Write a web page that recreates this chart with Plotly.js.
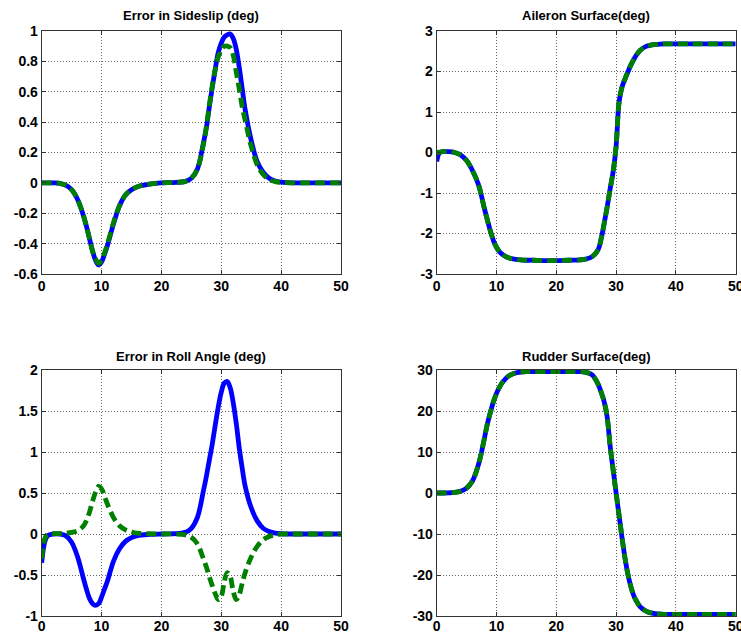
<!DOCTYPE html>
<html>
<head>
<meta charset="utf-8">
<script src="https://cdn.plot.ly/plotly-3.0.1.min.js"></script>
<style>html,body{margin:0;padding:0;background:#fff;}#chart{width:741px;height:634px;}</style>
</head>
<body>
<div id="chart"></div>
<script>
// time (s)
const time = [0,0.5,1,2,3,4,5,6,7,7.5,8,8.5,9,9.5,10,10.5,11,12,13,14,15,16,18,20,22,24,25,26,27,27.5,28,28.5,29,29.5,30,30.5,31,31.5,32,32.5,33,33.5,34,35,36,37,38,39,40,42,45,50];

const sideslipBlue = [0,0,0,0,-0.003,-0.015,-0.045,-0.11,-0.22,-0.29,-0.37,-0.45,-0.51,-0.54,-0.52,-0.47,-0.41,-0.27,-0.15,-0.08,-0.045,-0.025,-0.008,0,0.002,0.01,0.03,0.09,0.26,0.36,0.5,0.63,0.75,0.86,0.92,0.96,0.975,0.98,0.95,0.88,0.76,0.62,0.48,0.28,0.14,0.07,0.03,0.012,0.005,0,0,0];
const sideslipGreen = [0,0,0,0,-0.003,-0.015,-0.045,-0.11,-0.22,-0.29,-0.37,-0.45,-0.5,-0.53,-0.51,-0.46,-0.4,-0.26,-0.15,-0.08,-0.045,-0.025,-0.008,0,0.002,0.01,0.03,0.09,0.25,0.37,0.51,0.64,0.75,0.83,0.87,0.9,0.9,0.89,0.84,0.73,0.62,0.5,0.41,0.24,0.12,0.055,0.022,0.008,0.003,0,0,0];

const aileronBlue = [-0.22,0,0.02,0.02,0,-0.06,-0.2,-0.45,-0.8,-1.08,-1.4,-1.68,-1.95,-2.18,-2.34,-2.45,-2.52,-2.6,-2.63,-2.65,-2.66,-2.66,-2.67,-2.67,-2.66,-2.65,-2.63,-2.57,-2.4,-2.13,-1.76,-1.35,-0.9,-0.48,0.15,1.25,1.62,1.82,2.0,2.17,2.31,2.43,2.52,2.62,2.66,2.67,2.68,2.68,2.68,2.68,2.68,2.68];
const aileronGreen = [0,0.01,0.02,0.02,0,-0.06,-0.2,-0.45,-0.8,-1.08,-1.4,-1.68,-1.95,-2.18,-2.34,-2.45,-2.52,-2.6,-2.63,-2.65,-2.66,-2.66,-2.67,-2.67,-2.66,-2.65,-2.63,-2.57,-2.4,-2.13,-1.76,-1.35,-0.9,-0.48,0.15,1.25,1.62,1.82,2.0,2.17,2.31,2.43,2.52,2.62,2.66,2.67,2.68,2.68,2.68,2.68,2.68,2.68];

const rollBlue = [-0.35,-0.1,-0.02,0,0,-0.02,-0.1,-0.28,-0.55,-0.68,-0.79,-0.85,-0.87,-0.85,-0.77,-0.67,-0.57,-0.33,-0.18,-0.09,-0.045,-0.02,-0.005,0,0.003,0.02,0.07,0.2,0.52,0.7,0.9,1.1,1.33,1.55,1.73,1.84,1.86,1.78,1.6,1.35,1.05,0.8,0.58,0.32,0.16,0.07,0.03,0.01,0.003,0,0,0];
const rollGreen = [-0.3,-0.06,0,0.005,0.005,0.01,0.02,0.04,0.1,0.17,0.27,0.4,0.51,0.58,0.55,0.46,0.36,0.2,0.1,0.05,0.025,0.01,0.003,0,0,-0.01,-0.04,-0.12,-0.3,-0.4,-0.52,-0.63,-0.73,-0.8,-0.76,-0.58,-0.47,-0.52,-0.7,-0.8,-0.74,-0.6,-0.47,-0.28,-0.15,-0.07,-0.03,-0.01,0,0,0,0];

const rudderBlue = [0,0,0,0.05,0.15,0.45,1.2,3,7,10,13.5,17,19.8,22.3,24.3,25.8,27,28.5,29.2,29.5,29.6,29.6,29.6,29.6,29.6,29.6,29.4,28.8,26.5,24.6,22.3,18.6,11.5,5.7,0,-5.5,-11,-16,-20,-23,-25.2,-26.6,-27.7,-28.8,-29.3,-29.5,-29.6,-29.6,-29.6,-29.6,-29.6,-29.6];
const rudderGreen = [0,0,0,0.05,0.15,0.45,1.2,3,7,10,13.5,17,19.8,22.3,24.3,25.8,27,28.5,29.2,29.5,29.6,29.6,29.6,29.6,29.6,29.6,29.4,28.8,26.5,24.6,22.3,18.6,11.5,5.7,0,-5.5,-11,-16,-20,-23,-25.2,-26.6,-27.7,-28.8,-29.3,-29.5,-29.6,-29.6,-29.6,-29.6,-29.6,-29.6];

const titles = ['Error in Sideslip (deg)','Aileron Surface(deg)','Error in Roll Angle (deg)','Rudder Surface(deg)'];
const xTicks = [0,10,20,30,40,50];
const xTickText = ['0','10','20','30','40','50'];
const sideslipTicks = [-0.6,-0.4,-0.2,0,0.2,0.4,0.6,0.8,1];
const sideslipTickText = ['-0.6','-0.4','-0.2','0','0.2','0.4','0.6','0.8','1'];
const aileronTicks = [-3,-2,-1,0,1,2,3];
const aileronTickText = ['-3','-2','-1','0','1','2','3'];
const rollTicks = [-1,-0.5,0,0.5,1,1.5,2];
const rollTickText = ['-1','-0.5','0','0.5','1','1.5','2'];
const rudderTicks = [-30,-20,-10,0,10,20,30];
const rudderTickText = ['-30','-20','-10','0','10','20','30'];

const blueLine = {color:'#0000ff', width:4.8};
const greenLine = {color:'#008000', width:4.8, dash:'10px,5px'};

function pair(yb, yg, ax){
  return [
    {x:time, y:yb, xaxis:'x'+ax, yaxis:'y'+ax, type:'scatter', mode:'lines', line:Object.assign({shape:'spline'}, blueLine), showlegend:false, hoverinfo:'skip'},
    {x:time, y:yg, xaxis:'x'+ax, yaxis:'y'+ax, type:'scatter', mode:'lines', line:Object.assign({shape:'spline'}, greenLine), showlegend:false, hoverinfo:'skip'}
  ];
}
const data = [].concat(
  pair(sideslipBlue, sideslipGreen, ''),
  pair(aileronBlue, aileronGreen, '2'),
  pair(rollBlue, rollGreen, '3'),
  pair(rudderBlue, rudderGreen, '4')
);

const tickFont = {family:'Liberation Sans, Arial, sans-serif', size:14, color:'#000', weight:'bold'};
function axisBase(){
  return {
    showgrid:true, gridcolor:'#666', griddash:'1px,2px', gridwidth:1,
    showline:true, linecolor:'#333', linewidth:1, mirror:'ticks',
    ticks:'inside', ticklen:4, tickcolor:'#333',
    zeroline:false, tickfont:tickFont, fixedrange:true, ticklabeloverflow:'allow'
  };
}
function xAx(dom, anchor, standoff){
  return Object.assign(axisBase(), {domain:dom, anchor:anchor, range:[0,50], tickmode:'array', tickvals:xTicks, ticktext:xTickText, ticklabelstandoff:standoff});
}
function yAx(dom, anchor, range, tv, tt){
  return Object.assign(axisBase(), {domain:dom, anchor:anchor, range:range, tickmode:'array', tickvals:tv, ticktext:tt, ticklabelstandoff:0});
}
const W = 741, H = 634;
const xL = [41.7/W, 341/W], xR = [436.7/W, 735.7/W];
const yT = [(H-274)/H, (H-31)/H], yB = [(H-616)/H, (H-370)/H];

const titleFont = {family:'Liberation Sans, Arial, sans-serif', size:13, color:'#000', weight:'bold'};
const ann = [
  {text:titles[0], x:(xL[0]+xL[1])/2, y:(H-15.5)/H},
  {text:titles[1], x:(xR[0]+xR[1])/2, y:(H-15.5)/H},
  {text:titles[2], x:(xL[0]+xL[1])/2, y:(H-356)/H},
  {text:titles[3], x:(xR[0]+xR[1])/2, y:(H-356)/H}
].map(a => Object.assign(a, {xref:'paper', yref:'paper', xanchor:'center', yanchor:'middle', showarrow:false, font:titleFont}));

const layout = {
  width:W, height:H,
  margin:{l:0, r:0, t:0, b:0},
  paper_bgcolor:'#fff', plot_bgcolor:'#fff',
  showlegend:false,
  xaxis: xAx(xL, 'y', -1),
  yaxis: yAx(yT, 'x', [-0.6,1], sideslipTicks, sideslipTickText),
  xaxis2: xAx(xR, 'y2', -1),
  yaxis2: yAx(yT, 'x2', [-3,3], aileronTicks, aileronTickText),
  xaxis3: xAx(xL, 'y3', -3),
  yaxis3: yAx(yB, 'x3', [-1,2], rollTicks, rollTickText),
  xaxis4: xAx(xR, 'y4', -3),
  yaxis4: yAx(yB, 'x4', [-30,30], rudderTicks, rudderTickText),
  annotations: ann
};
Plotly.newPlot('chart', data, layout, {displayModeBar:false, staticPlot:true});
</script>
</body>
</html>
